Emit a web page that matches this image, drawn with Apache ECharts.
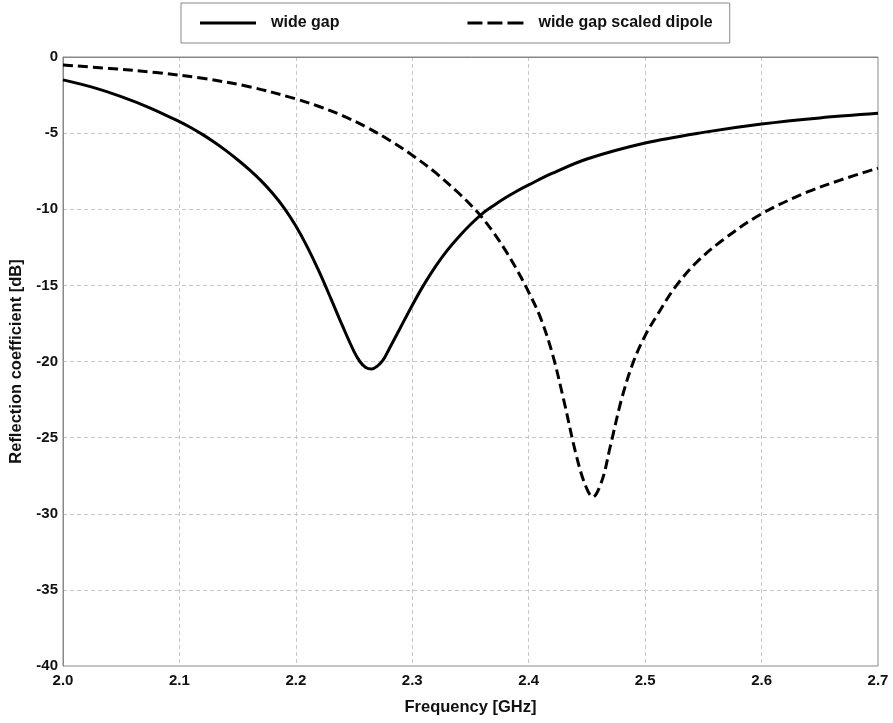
<!DOCTYPE html>
<html>
<head>
<meta charset="utf-8">
<script src="https://cdn.jsdelivr.net/npm/echarts@6/dist/echarts.min.js"></script>
<style>
html,body{margin:0;padding:0;background:#fff;}
#chart{width:893px;height:723px;}
</style>
</head>
<body>
<div id="chart"></div>
<script>
// Data
const seriesNames = ['wide gap', 'wide gap scaled dipole'];

const wideGapFreq = [2.00,2.025,2.05,2.075,2.10,2.11,2.12,2.13,2.14,2.15,2.16,2.17,2.18,2.19,2.20,2.21,2.22,2.23,2.24,2.25,2.255,2.26,2.265,2.27,2.275,2.28,2.29,2.30,2.31,2.32,2.33,2.34,2.35,2.36,2.37,2.38,2.39,2.40,2.42,2.45,2.50,2.55,2.60,2.65,2.70];
const wideGapVal  = [-1.5,-1.98,-2.6,-3.35,-4.25,-4.65,-5.1,-5.6,-6.15,-6.75,-7.4,-8.12,-8.95,-9.92,-11.1,-12.5,-14.1,-15.85,-17.65,-19.35,-20.0,-20.4,-20.5,-20.3,-19.9,-19.2,-17.75,-16.3,-14.95,-13.75,-12.7,-11.8,-11.0,-10.3,-9.75,-9.25,-8.8,-8.4,-7.65,-6.7,-5.65,-4.95,-4.4,-4.0,-3.7];

const scaledFreq = [2.00,2.04,2.08,2.12,2.16,2.20,2.22,2.24,2.26,2.28,2.30,2.32,2.34,2.35,2.36,2.37,2.38,2.39,2.40,2.41,2.42,2.43,2.44,2.448,2.455,2.463,2.47,2.48,2.49,2.50,2.51,2.525,2.544,2.567,2.60,2.64,2.667,2.70];
const scaledVal  = [-0.53,-0.75,-1.02,-1.4,-1.95,-2.75,-3.25,-3.85,-4.58,-5.45,-6.45,-7.6,-8.95,-9.7,-10.55,-11.55,-12.7,-14.0,-15.45,-17.1,-19.4,-22.5,-25.9,-28.0,-28.9,-27.8,-25.6,-22.4,-20.0,-18.3,-17.0,-15.2,-13.5,-12.0,-10.3,-8.85,-8.1,-7.3];

const xMin = 2.0, xMax = 2.7, xStep = 0.1;
const yMin = -40, yMax = 0, yStep = 5;

const pair = (xs, ys) => xs.map((x, i) => [x, ys[i]]);

const FONT = 'Arial, "Liberation Sans", sans-serif';
const TXT = '#111';

const solidIcon = 'path://M0,0H56V3H0Z';
const dashIcon = 'path://M0,0H15V3H0Z M20,0H35V3H20Z M40,0H56V3H40Z';

const chart = echarts.init(document.getElementById('chart'), null, {renderer: 'canvas'});
chart.setOption({
  animation: false,
  backgroundColor: '#fff',
  legend: {
    left: 181, top: 3,
    padding: [12, 17, 12, 19],
    borderColor: '#888', borderWidth: 1,
    itemWidth: 56, itemHeight: 3, itemGap: 128,
    itemStyle: {color: '#000', borderWidth: 0},
    textStyle: {fontFamily: FONT, fontWeight: 'bold', fontSize: 16, color: TXT, padding: [0, 0, 0, 10]},
    data: [
      {name: seriesNames[0], icon: solidIcon},
      {name: seriesNames[1], icon: dashIcon}
    ]
  },
  grid: {
    left: 63, top: 57, width: 815, height: 609,
    show: true, borderColor: '#888', borderWidth: 1, backgroundColor: 'transparent'
  },
  xAxis: {
    type: 'value', min: xMin, max: xMax, interval: xStep,
    name: 'Frequency [GHz]', nameLocation: 'middle', nameGap: 33,
    nameTextStyle: {fontFamily: FONT, fontWeight: 'bold', fontSize: 16.5, color: TXT},
    axisLine: {show: true, lineStyle: {color: '#888', width: 1}},
    axisTick: {show: false},
    axisLabel: {margin: 7, fontFamily: FONT, fontWeight: 'bold', fontSize: 15, color: TXT,
      formatter: v => v.toFixed(1)},
    splitLine: {show: true, lineStyle: {color: '#c8c8c8', type: [4, 3], width: 1}}
  },
  yAxis: {
    type: 'value', min: yMin, max: yMax, interval: yStep,
    name: 'Reflection coefficient [dB]', nameLocation: 'middle', nameGap: 35,
    nameTextStyle: {fontFamily: FONT, fontWeight: 'bold', fontSize: 16.5, color: TXT},
    axisLine: {show: true, lineStyle: {color: '#888', width: 1}},
    axisTick: {show: false},
    axisLabel: {margin: 5, fontFamily: FONT, fontWeight: 'bold', fontSize: 15, color: TXT},
    splitLine: {show: true, lineStyle: {color: '#c8c8c8', type: [4, 3], width: 1}}
  },
  series: [
    {
      name: seriesNames[0], type: 'line', data: pair(wideGapFreq, wideGapVal),
      showSymbol: false, symbol: 'none', smooth: 0.35,
      lineStyle: {color: '#000', width: 3, type: 'solid'},
      itemStyle: {color: '#000'}
    },
    {
      name: seriesNames[1], type: 'line', data: pair(scaledFreq, scaledVal),
      showSymbol: false, symbol: 'none', smooth: 0.35,
      lineStyle: {color: '#000', width: 3, type: [10, 5]},
      itemStyle: {color: '#000'}
    }
  ]
});
</script>
</body>
</html>
